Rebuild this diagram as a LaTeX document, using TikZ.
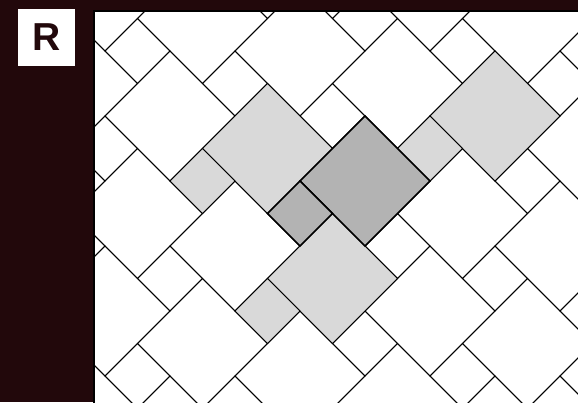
\documentclass[tikz,border=0pt]{standalone}
\usepackage{fontspec}
\setmainfont{Liberation Sans}
\definecolor{bgdark}{RGB}{34,8,11}
\definecolor{tilelight}{RGB}{217,217,217}
\definecolor{tiledark}{RGB}{179,179,179}
\tikzset{
  tile/.style={draw=black, line width=0.9pt, line join=miter},
  tileedge/.style={tile, line width=1.6pt}
}
\begin{document}
\begin{tikzpicture}[x=1pt, y=-1pt]
    \fill[bgdark] (0,0) rectangle (578,402);
    \useasboundingbox (0,0) rectangle (578,402);

    \path (94,11) coordinate (NW);
    \path (580,404) coordinate (SE);
    \fill[white] (NW) rectangle (SE);

    \begin{scope}
        \clip (NW) rectangle (SE);
        \begin{scope}[shift={(300,181)}, x={(32.5pt,32.5pt)}, y={(32.5pt,-32.5pt)}]
            \foreach \m in {-6,...,6}
                \foreach \n in {-6,...,6} {
                    \draw[tile] ({2*\m+\n},{2*\n-\m}) -- ++(2,0) -- ++(0,2) -- ++(-2,0) -- cycle;
                    \draw[tile] ({2*\m+\n-1},{2*\n-\m}) -- ++(1,0) -- ++(0,1) -- ++(-1,0) -- cycle;
                }

            \foreach \p/\q in {-1/-2, -2/1, 3/1} {
                \draw[tile, fill=tilelight] (\p,\q) -- ++(2,0) -- ++(0,2) -- ++(-2,0) -- cycle;
                \draw[tile, fill=tilelight] ({\p-1},\q) -- ++(1,0) -- ++(0,1) -- ++(-1,0) -- cycle;
            }

            \path (0,0) coordinate (C);
            \draw[tileedge, fill=tiledark] (C) -- ++(2,0) -- ++(0,2) -- ++(-2,0) -- cycle;
            \draw[tileedge, fill=tiledark] (C) -- ++(-1,0) -- ++(0,1) -- ++(1,0) -- cycle;
        \end{scope}
    \end{scope}
    \draw[black, line width=1.6pt] (NW) rectangle (SE);

    \node[fill=white, minimum width=57, minimum height=57, inner sep=0pt,
          text=bgdark, font=\bfseries\fontsize{39}{39}\selectfont] (label) at (46.5,37.5) {R};
\end{tikzpicture}
\end{document}
